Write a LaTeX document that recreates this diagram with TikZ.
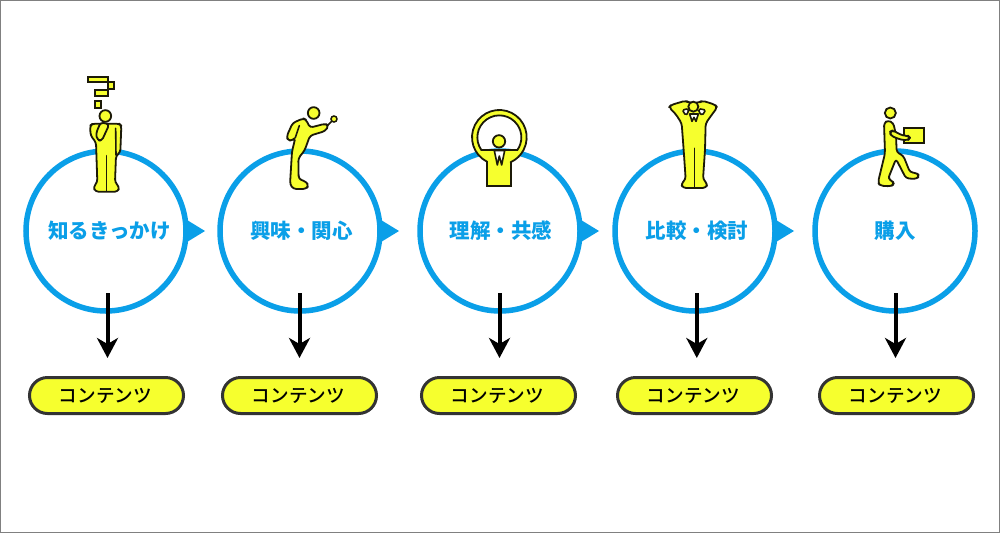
\documentclass[tikz,border=0pt]{standalone}
\usepackage{fontspec}
\newfontfamily\cjk{Noto Sans CJK JP}
\newfontfamily\cjkmed{Noto Sans CJK JP Medium}
\usetikzlibrary{arrows.meta}
\definecolor{ringblue}{HTML}{0A9FE8}
\definecolor{lemon}{HTML}{F6FF2E}
\definecolor{pilledge}{HTML}{333333}
\definecolor{figink}{HTML}{1C1A08}
\tikzset{
  ring/.style={circle,draw=ringblue,line width=5.5pt,outer sep=0pt,fill=white,minimum size=160pt,inner sep=0pt},
  ringtext/.style={inner sep=0pt,text=ringblue,font=\cjk\bfseries\fontsize{20.5pt}{22pt}\selectfont},
  pill/.style={rounded corners=18pt,draw=pilledge,line width=3pt,fill=lemon,minimum width=154pt,minimum height=36pt,inner sep=0pt},
  pilltext/.style={inner sep=0pt,font=\cjkmed\fontsize{18.6pt}{20pt}\selectfont},
  flow/.style={line width=4pt,-{Stealth[length=20pt,width=21pt,inset=6pt]}},
  next/.style={fill=ringblue,draw=none},
  fig/.style={draw=figink,line width=1.8pt,fill=lemon,line join=round,rounded corners=3pt},
  figsharp/.style={draw=figink,line width=1.8pt,fill=lemon,line join=miter},
  figline/.style={draw=figink,line width=1.6pt,line cap=round,line join=round},
  hole/.style={draw=figink,line width=1.6pt,fill=white,line join=round,rounded corners=1.5pt}
}
\begin{document}
\begin{tikzpicture}[x=1pt,y=-1pt]
\useasboundingbox (0,0) rectangle (1000,533);
\draw[draw=black!50,line width=1pt,fill=white] (0.5,0.5) rectangle (999.5,532.5);

% triangles between the circles
\foreach \tx in {187,381,581,776}{
  \path[next] (\tx,220) -- (\tx+18,231) -- (\tx,242) -- cycle;
}

% circles
\node[ring] (c1) at (106,231) {};
\node[ring] (c2) at (300,231) {};
\node[ring] (c3) at (500,231) {};
\node[ring] (c4) at (695,231) {};
\node[ring] (c5) at (895,231) {};
\node[ringtext] (t1) at (109.5,231) {知るきっかけ};
\node[ringtext] (t2) at (301.5,231) {興味・関心};
\node[ringtext] (t3) at (501,231) {理解・共感};
\node[ringtext] (t4) at (697,231) {比較・検討};
\node[ringtext] (t5) at (895,231) {購入};

% pills
\node[pill] (p1) at (106.5,395.5) {};
\node[pill] (p2) at (299.5,395.5) {};
\node[pill] (p3) at (498.5,395.5) {};
\node[pill] (p4) at (694.5,395.5) {};
\node[pill] (p5) at (896.5,395.5) {};
\node[pilltext] (q1) at (105.3,396) {コンテンツ};
\node[pilltext] (q2) at (298.3,396) {コンテンツ};
\node[pilltext] (q3) at (497.3,396) {コンテンツ};
\node[pilltext] (q4) at (693.3,396) {コンテンツ};
\node[pilltext] (q5) at (895.3,396) {コンテンツ};

% arrows
\foreach \n/\ax in {1/107.5,2/299.5,3/499.5,4/696.8,5/895.5}{
  \coordinate (s\n) at (\ax,293);
  \coordinate (e\n) at (\ax,358);
  \draw[flow] (s\n) -- (e\n);
}

% figure 1: thinking
\begin{scope}[shift={(60,65)},scale=0.3333]
  \draw[figsharp] (85,35) -- (145,35) -- (145,52) -- (85,52) -- cycle;
  \draw[figsharp] (105,75) -- (145,75) -- (145,92) -- (105,92) -- cycle;
  \draw[figsharp] (143,52) -- (162,52) -- (162,72) -- (143,72) -- cycle;
  \draw[figsharp] (104,108) rectangle (124,128);
  \draw[fig] (98,176) -- (178,176) -- (184,182) -- (181,262) -- (168,272) -- (165,352) -- (178,366) -- (174,380) -- (106,380) -- (100,366) -- (112,352) -- (108,232) -- (92,212) -- (90,182) -- cycle;
  \draw[figline] (140,272) -- (140,378);
  \draw[figline] (167,190) -- (168,270);
  \draw[fig] (122,172) -- (108,205) -- (112,225) -- (125,228) -- (148,178) -- cycle;
  \draw[figsharp] (136,153) circle[radius=17.5];
\end{scope}

% figure 2: curious
\begin{scope}[shift={(270,95)},scale=0.3333]
  \draw[figline] (192,72) -- (172,92);
  \draw[figsharp,line width=1.5pt] (192,72) circle[radius=9];
  \draw[fig] (100,70) -- (68,84) -- (50,124) -- (54,137) -- (68,136) -- (76,128) -- (66,170) -- (60,268) -- (70,282) -- (108,282) -- (116,272) -- (108,260) -- (86,252) -- (85,190) -- (104,166) -- (120,122) -- (166,108) -- (176,92) -- (166,86) -- (120,98) -- (108,74) -- cycle;
  \draw[figline] (88,92) -- (76,128);
  \draw[figsharp] (131,54) circle[radius=17.5];
\end{scope}

% figure 3: understanding
\begin{scope}[shift={(460,100)},scale=0.3333]
  \draw[figsharp,even odd rule]
    (81,258) -- (80.8,185) arc[start angle=117,end angle=425,radius=82] -- (153,258) -- cycle
    (64,150) arc[start angle=145,end angle=395,radius=66] -- cycle;
  \draw[figline,fill=white] (103,152) -- (112,195) -- (118,168) -- (125,195) -- (134,152) -- cycle;
  \draw[figsharp] (117,124) circle[radius=18.5];
\end{scope}

% figure 4: comparing
\begin{scope}[shift={(655,90)},scale=0.3333]
  \draw[fig] (42,52) -- (48,45) -- (92,32) -- (102,38) -- (132,38) -- (142,32) -- (180,44) -- (187,52) -- (172,72) -- (152,100) -- (150,180) -- (144,268) -- (158,282) -- (152,294) -- (84,294) -- (78,282) -- (92,268) -- (86,180) -- (80,100) -- (62,72) -- cycle;
  \draw[hole] (100,56) -- (82,60) -- (92,76) -- (100,68) -- cycle;
  \draw[hole] (132,56) -- (152,60) -- (142,76) -- (132,68) -- cycle;
  \draw[figline,fill=white] (104,72) -- (111,94) -- (117,82) -- (123,94) -- (130,72) -- cycle;
  \draw[figline] (118,175) -- (118,292);
  \draw[figsharp] (115,50) circle[radius=15];
\end{scope}

% figure 5: buying
\begin{scope}[shift={(860,95)},scale=0.3333]
  \draw[figsharp] (132,100) rectangle (193,145);
  \draw[fig] (72,84) -- (84,76) -- (100,84) -- (108,120) -- (110,172) -- (130,182) -- (150,232) -- (170,234) -- (178,242) -- (170,252) -- (138,250) -- (108,192) -- (84,252) -- (98,258) -- (102,268) -- (92,274) -- (60,272) -- (54,262) -- (75,175) -- cycle;
  \draw[fig] (90,110) -- (98,106) -- (128,122) -- (144,122) -- (150,128) -- (144,136) -- (122,134) -- (92,122) -- cycle;
  \draw[figsharp] (91,54) circle[radius=16.5];
\end{scope}
\end{tikzpicture}
\end{document}
